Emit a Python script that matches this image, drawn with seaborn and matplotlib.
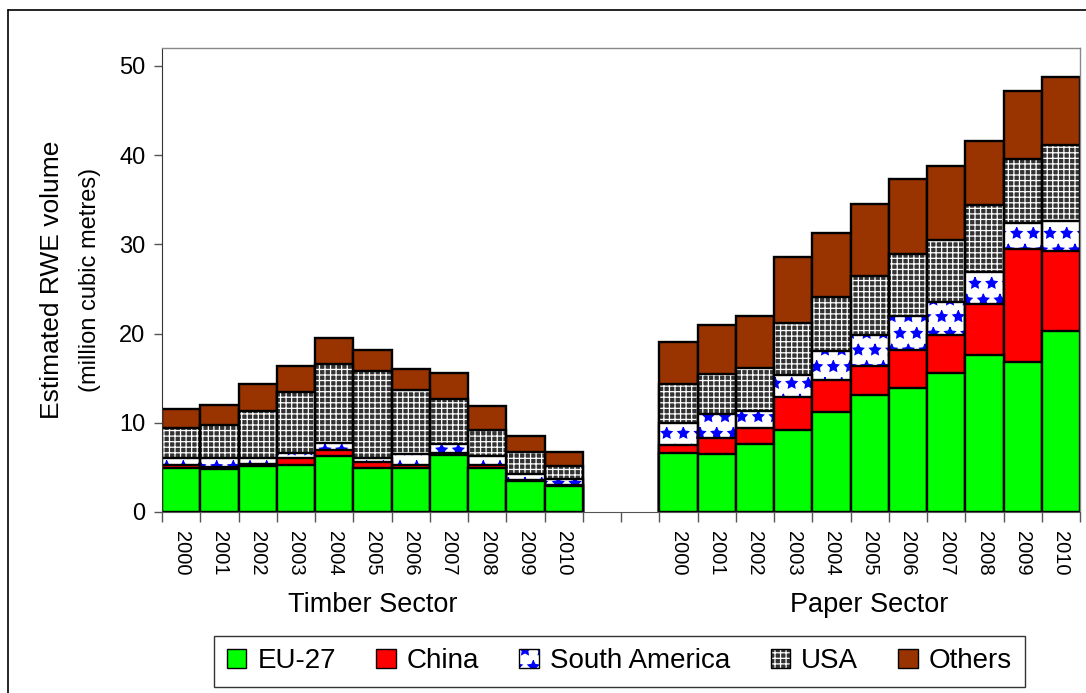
import matplotlib
matplotlib.use("Agg")
import matplotlib.pyplot as plt
from matplotlib.patches import Patch
from matplotlib.lines import Line2D
import pandas as pd
import seaborn as sns

years = ['2000', '2001', '2002', '2003', '2004', '2005', '2006', '2007', '2008', '2009', '2010']
regions = ['EU-27', 'China', 'South America', 'USA', 'Others']

# Timber sector, million m3 RWE per supplying region
timber_eu = [4.90, 4.78, 5.11, 5.30, 6.27, 4.97, 4.97, 6.35, 4.97, 3.43, 2.87]
timber_china = [0.36, 0.25, 0.26, 0.79, 0.73, 0.67, 0.33, 0.25, 0.25, 0.14, 0.14]
timber_sam = [0.78, 1.02, 0.68, 0.56, 0.78, 0.45, 1.24, 0.98, 1.02, 0.72, 0.72]
timber_usa = [3.36, 3.75, 5.32, 6.81, 8.82, 9.71, 7.16, 5.12, 2.96, 2.41, 1.37]
timber_others = [2.15, 2.17, 2.93, 2.94, 2.90, 2.35, 2.30, 2.90, 2.70, 1.80, 1.65]

# Paper sector
paper_eu = [6.65, 6.46, 7.66, 9.19, 11.18, 13.09, 13.88, 15.60, 17.55, 16.76, 20.28]
paper_china = [0.82, 1.88, 1.72, 3.68, 3.60, 3.26, 4.32, 4.27, 5.75, 12.74, 9.02]
paper_sam = [2.51, 2.66, 1.95, 2.50, 3.29, 3.52, 3.80, 3.70, 3.60, 2.90, 3.30]
paper_usa = [4.32, 4.45, 4.83, 5.83, 6.03, 6.59, 6.90, 6.93, 7.46, 7.20, 8.50]
paper_others = [4.80, 5.55, 5.84, 7.40, 7.20, 8.09, 8.40, 8.30, 7.19, 7.60, 7.60]

rows = []
for prefix, series in [('T', [timber_eu, timber_china, timber_sam, timber_usa, timber_others]),
                       ('P', [paper_eu, paper_china, paper_sam, paper_usa, paper_others])]:
    for i, y in enumerate(years):
        row = {'slot': prefix + y, 'year': y}
        for reg, s in zip(regions, series):
            row[reg] = s[i]
        rows.append(row)
df = pd.DataFrame(rows)
# cumulative tops for stacking
tops = df[regions].cumsum(axis=1)
for reg in regions:
    df['top_' + reg] = tops[reg]

slots = ['T' + y for y in years] + ['gap1', 'gap2'] + ['P' + y for y in years]

sns.set_style("ticks")
plt.rcParams['font.family'] = ['Liberation Sans', 'DejaVu Sans']
plt.rcParams['hatch.linewidth'] = 0.9
plt.rcParams['text.color'] = 'black'
plt.rcParams['xtick.labelcolor'] = 'black'
plt.rcParams['ytick.labelcolor'] = 'black'

fig = plt.figure(figsize=(10.86, 6.93), dpi=100)
ax = fig.add_axes([162 / 1086, 1 - 512 / 693, 918 / 1086, 464 / 693])

# face colour, hatch colour, hatch
styles = {
    'Others': ('#993300', None, None),
    'USA': ('#333333', 'white', '+++'),
    'South America': ('white', '#0000ff', '*'),
    'China': ('#ff0000', None, None),
    'EU-27': ('#00ff00', None, None),
}

for reg in reversed(regions):
    face, hcol, hatch = styles[reg]
    if hatch is None:
        sns.barplot(data=df, x='slot', y='top_' + reg, order=slots, color=face, saturation=1,
                    width=1, edgecolor='black', linewidth=1.7, errorbar=None, ax=ax)
    else:
        sns.barplot(data=df, x='slot', y='top_' + reg, order=slots, color=face, saturation=1,
                    width=1, edgecolor=hcol, linewidth=0, hatch=hatch, errorbar=None, ax=ax)
        sns.barplot(data=df, x='slot', y='top_' + reg, order=slots, color='black', fill=False,
                    width=1, linewidth=1.7, errorbar=None, ax=ax)

ax.set_xlim(-0.5, 23.5)
ax.set_ylim(0, 52)
ax.set_yticks([0, 10, 20, 30, 40, 50])
ax.tick_params(axis='y', labelsize=17, length=6, width=1, color='#555555', pad=6)

ax.set_xticks(range(24))
ax.set_xticklabels([s[1:] if s[0] in 'TP' else '' for s in slots], rotation=270)
ax.tick_params(axis='x', which='major', length=0, labelsize=14.5, pad=14)
ax.set_xticks([i - 0.5 for i in range(25)], minor=True)
ax.tick_params(axis='x', which='minor', length=7, width=1, color='#555555', direction='out')
ax.set_xlabel('')
ax.set_ylabel('')

for side in ['top', 'right']:
    ax.spines[side].set_visible(True)
    ax.spines[side].set_color('#888888')
    ax.spines[side].set_linewidth(1)
ax.spines['left'].set_color('#333333')
ax.spines['bottom'].set_color('#555555')

ax.annotate('Timber Sector', xy=(5, 1 - 605 / 693), xycoords=('data', 'figure fraction'),
            ha='center', va='center', fontsize=19.5)
ax.annotate('Paper Sector', xy=(18, 1 - 605 / 693), xycoords=('data', 'figure fraction'),
            ha='center', va='center', fontsize=19.5)

fig.text(52 / 1086, 1 - 280 / 693, 'Estimated RWE volume', rotation=90, ha='center', va='center', fontsize=19)
fig.text(90 / 1086, 1 - 280 / 693, '(million cubic metres)', rotation=90, ha='center', va='center', fontsize=17)

handles = []
for reg in regions:
    face, hcol, hatch = styles[reg]
    if hatch is None:
        handles.append(Patch(facecolor=face, edgecolor='black', linewidth=1))
    else:
        handles.append((Patch(facecolor=face, edgecolor=hcol, hatch=hatch, linewidth=0),
                        Patch(fill=False, edgecolor='black', linewidth=1)))
leg = fig.legend(handles, regions, loc='center', bbox_to_anchor=(619.5 / 1086, 1 - 661 / 693),
                 ncol=5, fontsize=20, frameon=True, fancybox=False, edgecolor='black',
                 handlelength=0.7, handleheight=0.7, handletextpad=0.4, columnspacing=1.45,
                 borderpad=0.45, borderaxespad=0)
leg.get_frame().set_linewidth(1)

# outer chart frame
fig.add_artist(Line2D([8 / 1086, 8 / 1086], [0, 1 - 10 / 693], color='black', linewidth=1.2))
fig.add_artist(Line2D([8 / 1086, 1], [1 - 10 / 693, 1 - 10 / 693], color='black', linewidth=1.2))

fig.savefig('out.png', dpi=100)
